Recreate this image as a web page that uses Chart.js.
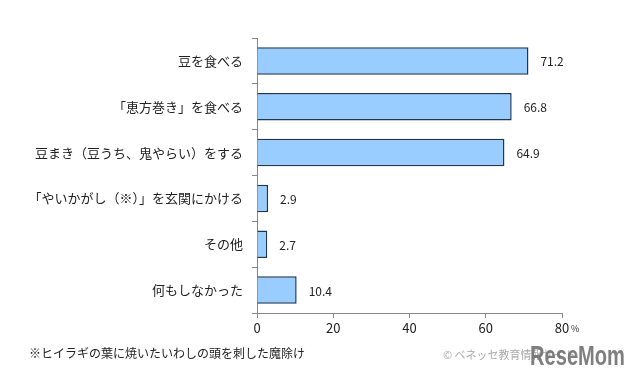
<!DOCTYPE html>
<html>
<head>
<meta charset="utf-8">
<script src="https://cdn.jsdelivr.net/npm/chart.js@4"></script>
<style>
	body { margin: 0; background: #fff; }
	#wrap { position: relative; width: 640px; height: 385px; }
</style>
</head>
<body>
<div id="wrap"><canvas id="results" width="640" height="385"></canvas></div>
<script>
let categories = ['豆を食べる', '「恵方巻き」を食べる', '豆まき（豆うち、鬼やらい）をする', '「やいかがし（※）」を玄関にかける', 'その他', '何もしなかった'];
let values = [71.2, 66.8, 64.9, 2.9, 2.7, 10.4];
let xTicks = [0, 20, 40, 60, 80];
let footnote = '※ヒイラギの葉に焼いたいわしの頭を刺した魔除け';
let credit = '© ベネッセ教育情報サイト';

let jpFont = '"Noto Sans CJK JP", "Noto Sans", sans-serif';

let extras = {
	id: 'extras',
	afterDatasetsDraw: (chart) => {
		let ctx = chart.ctx;
		let meta = chart.getDatasetMeta(0);
		ctx.save();
		ctx.font = '12px ' + jpFont;
		ctx.fillStyle = '#222';
		ctx.textBaseline = 'middle';
		ctx.textAlign = 'left';
		meta.data.forEach((bar, i) => {
			ctx.fillText(values[i].toFixed(1), bar.x + 12, bar.y + 1);
		});
		// percent sign after the last x tick
		let xs = chart.scales.x;
		let px = xs.getPixelForValue(xTicks[xTicks.length - 1]);
		ctx.font = '9px ' + jpFont;
		ctx.fillStyle = '#333';
		ctx.fillText('%', px + 9, xs.top + 16);
		// footnote
		ctx.font = '12px ' + jpFont;
		ctx.fillStyle = '#222';
		ctx.fillText(footnote, 29, 353);
		// credit watermark
		ctx.font = '11px ' + jpFont;
		ctx.fillStyle = '#aaa';
		ctx.fillText(credit, 443, 355);
		// logo, squeezed to its width in the reference
		ctx.font = 'bold 28px "Liberation Sans", Arial, sans-serif';
		ctx.fillStyle = 'rgba(105,105,105,0.85)';
		let w = ctx.measureText('ReseMom').width;
		ctx.translate(530, 357);
		ctx.scale(95 / w, 1);
		ctx.fillText('ReseMom', 0, 0);
		ctx.restore();
	}
};

let chart = new Chart(document.getElementById('results').getContext('2d'), {
	type: 'bar',
	data: {
		labels: categories,
		datasets: [{
			data: values,
			backgroundColor: '#99ccff',
			borderColor: '#1f3550',
			borderWidth: 1.5,
			categoryPercentage: 1,
			barPercentage: 0.6
		}]
	},
	options: {
		indexAxis: 'y',
		responsive: false,
		animation: false,
		layout: { padding: { top: 38, right: 78, left: 0, bottom: 0 } },
		plugins: {
			legend: { display: false },
			tooltip: { enabled: false }
		},
		scales: {
			x: {
				min: 0,
				max: 80,
				afterBuildTicks: (scale) => { scale.ticks = xTicks.map(v => ({ value: v })); },
				afterFit: (scale) => { scale.height = 72; },
				grid: { drawOnChartArea: false, drawTicks: true, tickLength: 5, color: '#888' },
				border: { color: '#888', width: 1 },
				ticks: { color: '#222', font: { family: jpFont, size: 13 }, padding: 2 }
			},
			y: {
				afterFit: (scale) => { scale.width = 257; },
				grid: { offset: true, drawOnChartArea: false, drawTicks: true, tickLength: 5, color: '#888' },
				border: { color: '#888', width: 1 },
				ticks: { color: '#222', font: { family: jpFont, size: 13 }, padding: 9 }
			}
		}
	},
	plugins: [extras]
});
</script>
</body>
</html>
